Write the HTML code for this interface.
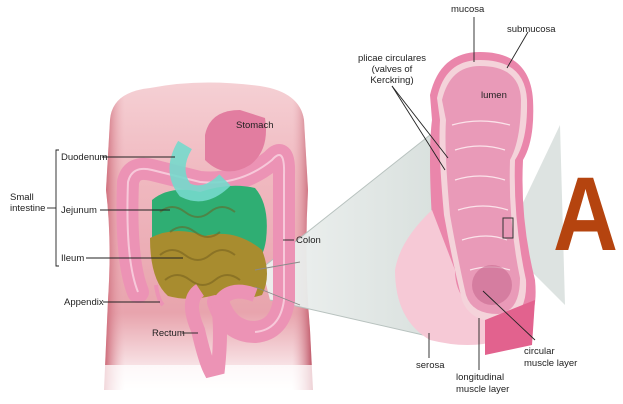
<!DOCTYPE html>
<html><head><meta charset="utf-8"><style>
html,body{margin:0;padding:0;background:#fff;}
svg{display:block;}
text{font-family:"Liberation Sans",sans-serif;font-size:9.5px;fill:#222;}
</style></head><body>
<svg width="623" height="404" viewBox="0 0 623 404" xmlns="http://www.w3.org/2000/svg">
<defs>
<linearGradient id="torso" x1="0" y1="0" x2="0" y2="1">
<stop offset="0" stop-color="#f5d0d4"/><stop offset="0.3" stop-color="#f0b9c0"/><stop offset="0.75" stop-color="#e8a4ad"/><stop offset="1" stop-color="#fff"/>
</linearGradient>
<linearGradient id="edge" x1="0" y1="0" x2="1" y2="0">
<stop offset="0" stop-color="#c9606f"/><stop offset="0.1" stop-color="#eab0b8" stop-opacity="0"/><stop offset="0.9" stop-color="#eab0b8" stop-opacity="0"/><stop offset="1" stop-color="#b94a5c"/>
</linearGradient>
<linearGradient id="fun" x1="0" y1="0" x2="1" y2="0">
<stop offset="0" stop-color="#eef1f0"/><stop offset="1" stop-color="#d6dedb"/>
</linearGradient>
</defs>
<!-- torso -->
<path d="M110,120 Q112,92 150,88 Q200,78 260,86 Q300,92 304,120 L308,190 Q304,260 310,330 L313,390 L104,390 L108,300 Q112,240 106,190 Z" fill="url(#torso)"/>
<path d="M110,120 Q112,92 150,88 Q200,78 260,86 Q300,92 304,120 L308,190 Q304,260 310,330 L313,390 L104,390 L108,300 Q112,240 106,190 Z" fill="url(#edge)"/>
<rect x="100" y="365" width="220" height="39" fill="#fff" opacity="0.75"/>
<!-- funnel -->
<path d="M262,268 L430,135 L445,340 L270,300 Z" fill="url(#fun)" opacity="0.95"/>
<path d="M510,230 L560,125 L565,305 L500,240 Z" fill="#dde3e1"/>
<line x1="262" y1="268" x2="430" y2="135" stroke="#b8c2bf" stroke-width="1"/>
<line x1="270" y1="300" x2="445" y2="340" stroke="#b8c2bf" stroke-width="1"/>
<!-- colon -->
<path d="M138,292 Q125,260 128,182 Q132,165 152,170 L200,182 Q240,186 272,160 Q285,145 284,175 L284,300 Q280,330 255,332 Q228,332 218,302" fill="none" stroke="#ec93b5" stroke-width="22" stroke-linejoin="round" stroke-linecap="round"/>
<path d="M138,292 Q125,260 128,182 Q132,165 152,170 L200,182 Q240,186 272,160 Q285,145 284,175 L284,300 Q280,330 255,332" fill="none" stroke="#f7c9da" stroke-width="2"/>
<!-- small intestine -->
<path d="M152,200 Q170,185 200,192 Q230,182 255,188 Q270,205 266,240 Q262,268 240,270 L200,262 Q165,265 152,245 Z" fill="#2fae73"/>
<path d="M150,238 Q175,225 205,236 Q235,228 262,250 Q272,275 262,295 Q240,302 215,295 Q190,302 168,296 Q150,280 150,238 Z" fill="#a88c2f"/>
<path d="M160,255 q12,-10 25,0 t25,0 t25,0 M165,280 q12,-10 25,0 t25,0 t25,0 M160,212 q12,-10 25,0 t25,0 t25,0 M170,232 q12,-10 25,0 t25,0" stroke="#6e5a1c" stroke-width="2" fill="none" opacity="0.5"/>
<!-- duodenum -->
<path d="M185,145 Q170,170 185,190 Q205,200 225,180" fill="none" stroke="#76d9cc" stroke-width="16" opacity="0.9"/>
<!-- stomach -->
<path d="M205,135 Q210,110 240,110 L265,118 Q270,150 250,165 Q225,180 205,160 Z" fill="#e27da0"/>
<!-- rectum -->
<path d="M200,290 Q185,300 198,330 Q205,360 210,370 L218,368 Q222,330 218,305 Q228,285 255,295" fill="none" stroke="#ec93b5" stroke-width="14"/>
<path d="M156,285 Q158,300 163,305" stroke="#ec93b5" stroke-width="4" fill="none"/>
<!-- tube outer -->
<path d="M430,95 Q440,52 480,52 Q530,52 533,100 Q535,140 523,160 Q520,220 535,280 Q540,330 505,340 Q470,345 455,320 Q440,270 432,220 Q428,150 432,120 Z" fill="#ea86ab"/>
<path d="M432,210 Q400,240 395,270 Q395,320 430,340 Q470,350 500,340 L480,310 Q455,300 455,270 Z" fill="#f6c9d6"/>
<path d="M437,98 Q445,60 480,60 Q525,60 527,100 Q528,140 515,160 Q513,220 526,280 Q528,318 500,322 Q470,322 462,300 Q452,260 444,215 Q438,150 440,120 Z" fill="#f4d3da"/>
<path d="M442,100 Q450,66 480,66 Q520,66 521,100 Q521,140 510,160 Q508,220 520,278 Q520,312 498,314 Q472,314 466,295 Q458,260 450,215 Q444,150 446,120 Z" fill="#e99ab8"/>
<path d="M455,150 q25,-8 50,0 M455,180 q25,-8 50,0 M458,210 q25,-8 50,0 M462,240 q25,-8 45,0 M470,270 q20,-6 40,0 M452,125 q28,-8 58,0" stroke="#fbe3ea" stroke-width="1.2" fill="none"/>
<ellipse cx="492" cy="285" rx="20" ry="20" fill="#c86a8f" opacity="0.6"/>
<rect x="503" y="218" width="10" height="20" fill="none" stroke="#333" stroke-width="1"/>
<path d="M485,320 L535,300 L532,345 L485,355 Z" fill="#e2628e"/>
<!-- label lines -->
<g stroke="#222" stroke-width="0.9" fill="none">
<line x1="474" y1="17" x2="474" y2="62"/>
<line x1="528" y1="32" x2="507" y2="68"/>
<line x1="392" y1="86" x2="448" y2="158"/>
<line x1="392" y1="86" x2="445" y2="170"/>
<line x1="483" y1="291" x2="535" y2="340"/>
<line x1="479" y1="318" x2="479" y2="370"/>
<line x1="429" y1="333" x2="429" y2="358"/>
<line x1="102" y1="157" x2="175" y2="157"/>
<line x1="100" y1="210" x2="170" y2="210"/>
<line x1="86" y1="258" x2="183" y2="258"/>
<line x1="103" y1="302" x2="160" y2="302"/>
<line x1="182" y1="333" x2="198" y2="333"/>
<line x1="283" y1="240" x2="294" y2="240"/>
<line x1="47" y1="208" x2="56" y2="208"/>
<path d="M59,150 L56,150 L56,266 L59,266"/>
</g>
<g stroke="#8a8a8a" stroke-width="0.9"><line x1="255" y1="270" x2="300" y2="262"/><line x1="255" y1="287" x2="300" y2="305"/></g>
<text x="451" y="12">mucosa</text>
<text x="507" y="32">submucosa</text>
<text text-anchor="middle"><tspan x="392" y="61">plicae circulares</tspan><tspan x="392" dy="11">(valves of</tspan><tspan x="392" dy="11">Kerckring)</tspan></text>
<text x="481" y="98">lumen</text>
<text x="524" y="354">circular</text>
<text x="524" y="366">muscle layer</text>
<text x="416" y="368">serosa</text>
<text x="456" y="380">longitudinal</text>
<text x="456" y="392">muscle layer</text>
<text x="236" y="128">Stomach</text>
<text x="61" y="160">Duodenum</text>
<text x="61" y="213">Jejunum</text>
<text x="61" y="261">Ileum</text>
<text x="64" y="305">Appendix</text>
<text x="152" y="336">Rectum</text>
<text x="296" y="243">Colon</text>
<text x="10" y="200">Small</text>
<text x="10" y="211">intestine</text>
<text x="553" y="250" transform="translate(553,250) scale(0.9,1.05) translate(-553,-250)" style="font-size:100px;font-weight:bold;fill:#b5440f">A</text>
</svg>
</body></html>
